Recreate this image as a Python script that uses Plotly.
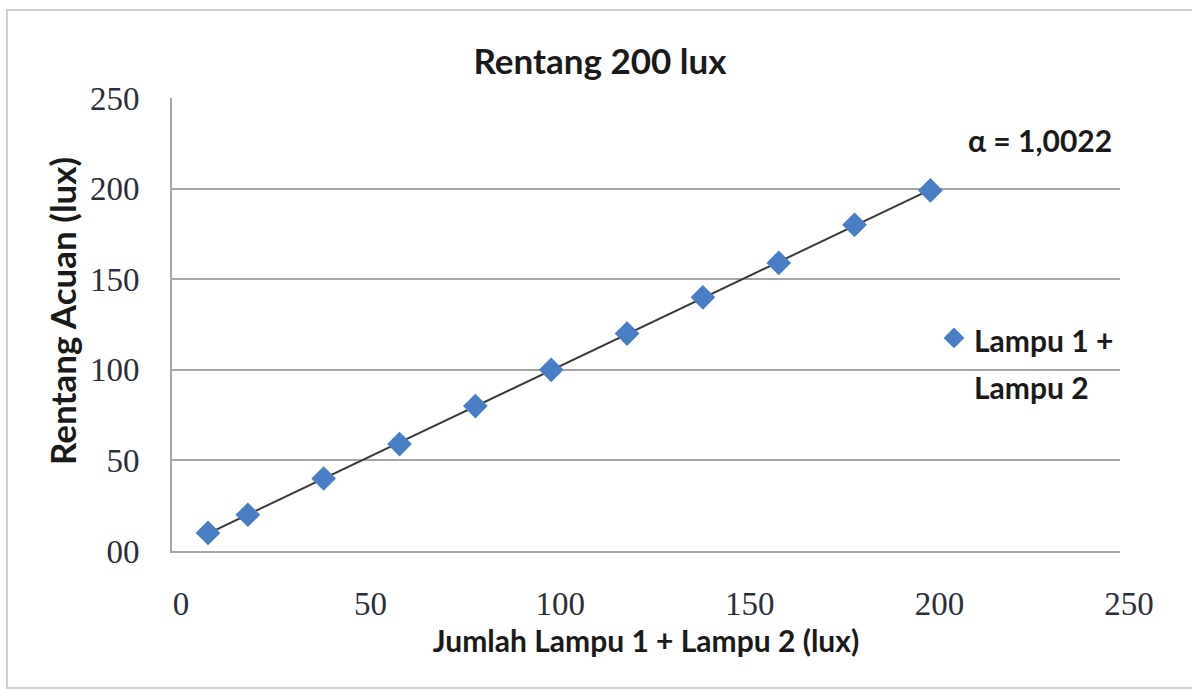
import numpy as np
import plotly.graph_objects as go

# Measured illuminance (lux)
jumlah_lampu = [9.5, 20, 40, 60, 80, 100, 120, 140, 160, 180, 200]   # Lampu 1 + Lampu 2
rentang_acuan = [10, 20, 40, 59, 80, 100, 120, 140, 159, 180, 199]   # reference meter

tick_vals = [0, 50, 100, 150, 200, 250]
y_tick_text = ["00", "50", "100", "150", "200", "250"]
x_tick_text = ["0", "50", "100", "150", "200", "250"]

legend_lines = ["Lampu 1 +", "Lampu 2"]
alpha_text = "α = 1,0022"

# Linear trendline over the measured range
slope, intercept = np.polyfit(jumlah_lampu, rentang_acuan, 1)
trend_x = np.array([min(jumlah_lampu), max(jumlah_lampu)])
trend_y = slope * trend_x + intercept

W, H = 1192, 689
L, R, T, B = 172, 72, 98, 138
PW, PH = W - L - R, H - T - B

sans = "Lato"
serif = "Liberation Serif"
text_col = "#1a1a1a"
tick_col = "#2b2f3a"
grid_col = "#a6a6a6"

legend_name = "<br>".join(
    "<span style='font-size:30px'><b>%s</b></span>" % s for s in legend_lines)

fig = go.Figure()
fig.add_trace(go.Scatter(
    x=trend_x, y=trend_y, mode="lines",
    line=dict(color="#3a3a3a", width=2),
    showlegend=False, hoverinfo="skip",
))
fig.add_trace(go.Scatter(
    x=jumlah_lampu, y=rentang_acuan, mode="markers",
    name=legend_name,
    marker=dict(symbol="diamond", size=19, color="#4a7ec4"),
))

fig.update_layout(
    width=W, height=H,
    margin=dict(l=L, r=R, t=T, b=B),
    paper_bgcolor="white", plot_bgcolor="white",
    title=dict(text="<b>Rentang 200 lux</b>", x=600 / W, xanchor="center",
               y=1 - 62 / H, yanchor="middle",
               font=dict(family=sans, size=35, color=text_col)),
    showlegend=True,
    legend=dict(x=(934 - L) / PW, y=1 - (308 - T) / PH,
                xanchor="left", yanchor="top", valign="top",
                bgcolor="rgba(0,0,0,0)", itemsizing="trace",
                font=dict(family=sans, size=36, color=text_col),
                tracegroupgap=0),
    xaxis=dict(range=[0, 250], tickvals=tick_vals, ticktext=x_tick_text,
               showgrid=False, zeroline=False, showline=True,
               linecolor=grid_col, linewidth=2, ticks="",
               ticklabelshift=9, ticklabelstandoff=22,
               tickfont=dict(family=serif, size=33, color=tick_col),
               title=dict(text="<b>Jumlah Lampu 1 + Lampu 2 (lux)</b>", standoff=10,
                          font=dict(family=sans, size=30, color=text_col))),
    yaxis=dict(range=[0, 250], tickvals=tick_vals, ticktext=y_tick_text,
               showgrid=True, gridcolor=grid_col, gridwidth=2,
               zeroline=False, showline=True, linecolor=grid_col, linewidth=2,
               ticks="", ticklabelstandoff=24,
               tickfont=dict(family=serif, size=33, color=tick_col)),
    annotations=[
        dict(text="<b>" + alpha_text + "</b>", xref="paper", yref="paper",
             x=(1114 - L) / PW, y=1 - (140 - T) / PH,
             xanchor="right", yanchor="middle", showarrow=False,
             font=dict(family=sans, size=30, color=text_col)),
        dict(text="<b>Rentang Acuan (lux)</b>", xref="paper", yref="paper",
             x=-(L - 62) / PW, y=1 - (311 - T) / PH, textangle=-90,
             xanchor="center", yanchor="middle", showarrow=False,
             font=dict(family=sans, size=35, color=text_col)),
    ],
    shapes=[dict(type="rect", xref="paper", yref="paper",
                 x0=-(L - 7) / PW, x1=1 + (R + 6) / PW,
                 y0=-(B - 1) / PH, y1=1 + (T - 10) / PH,
                 line=dict(color="#d0d0d0", width=2), layer="below")],
)

fig.write_html("out.html")
